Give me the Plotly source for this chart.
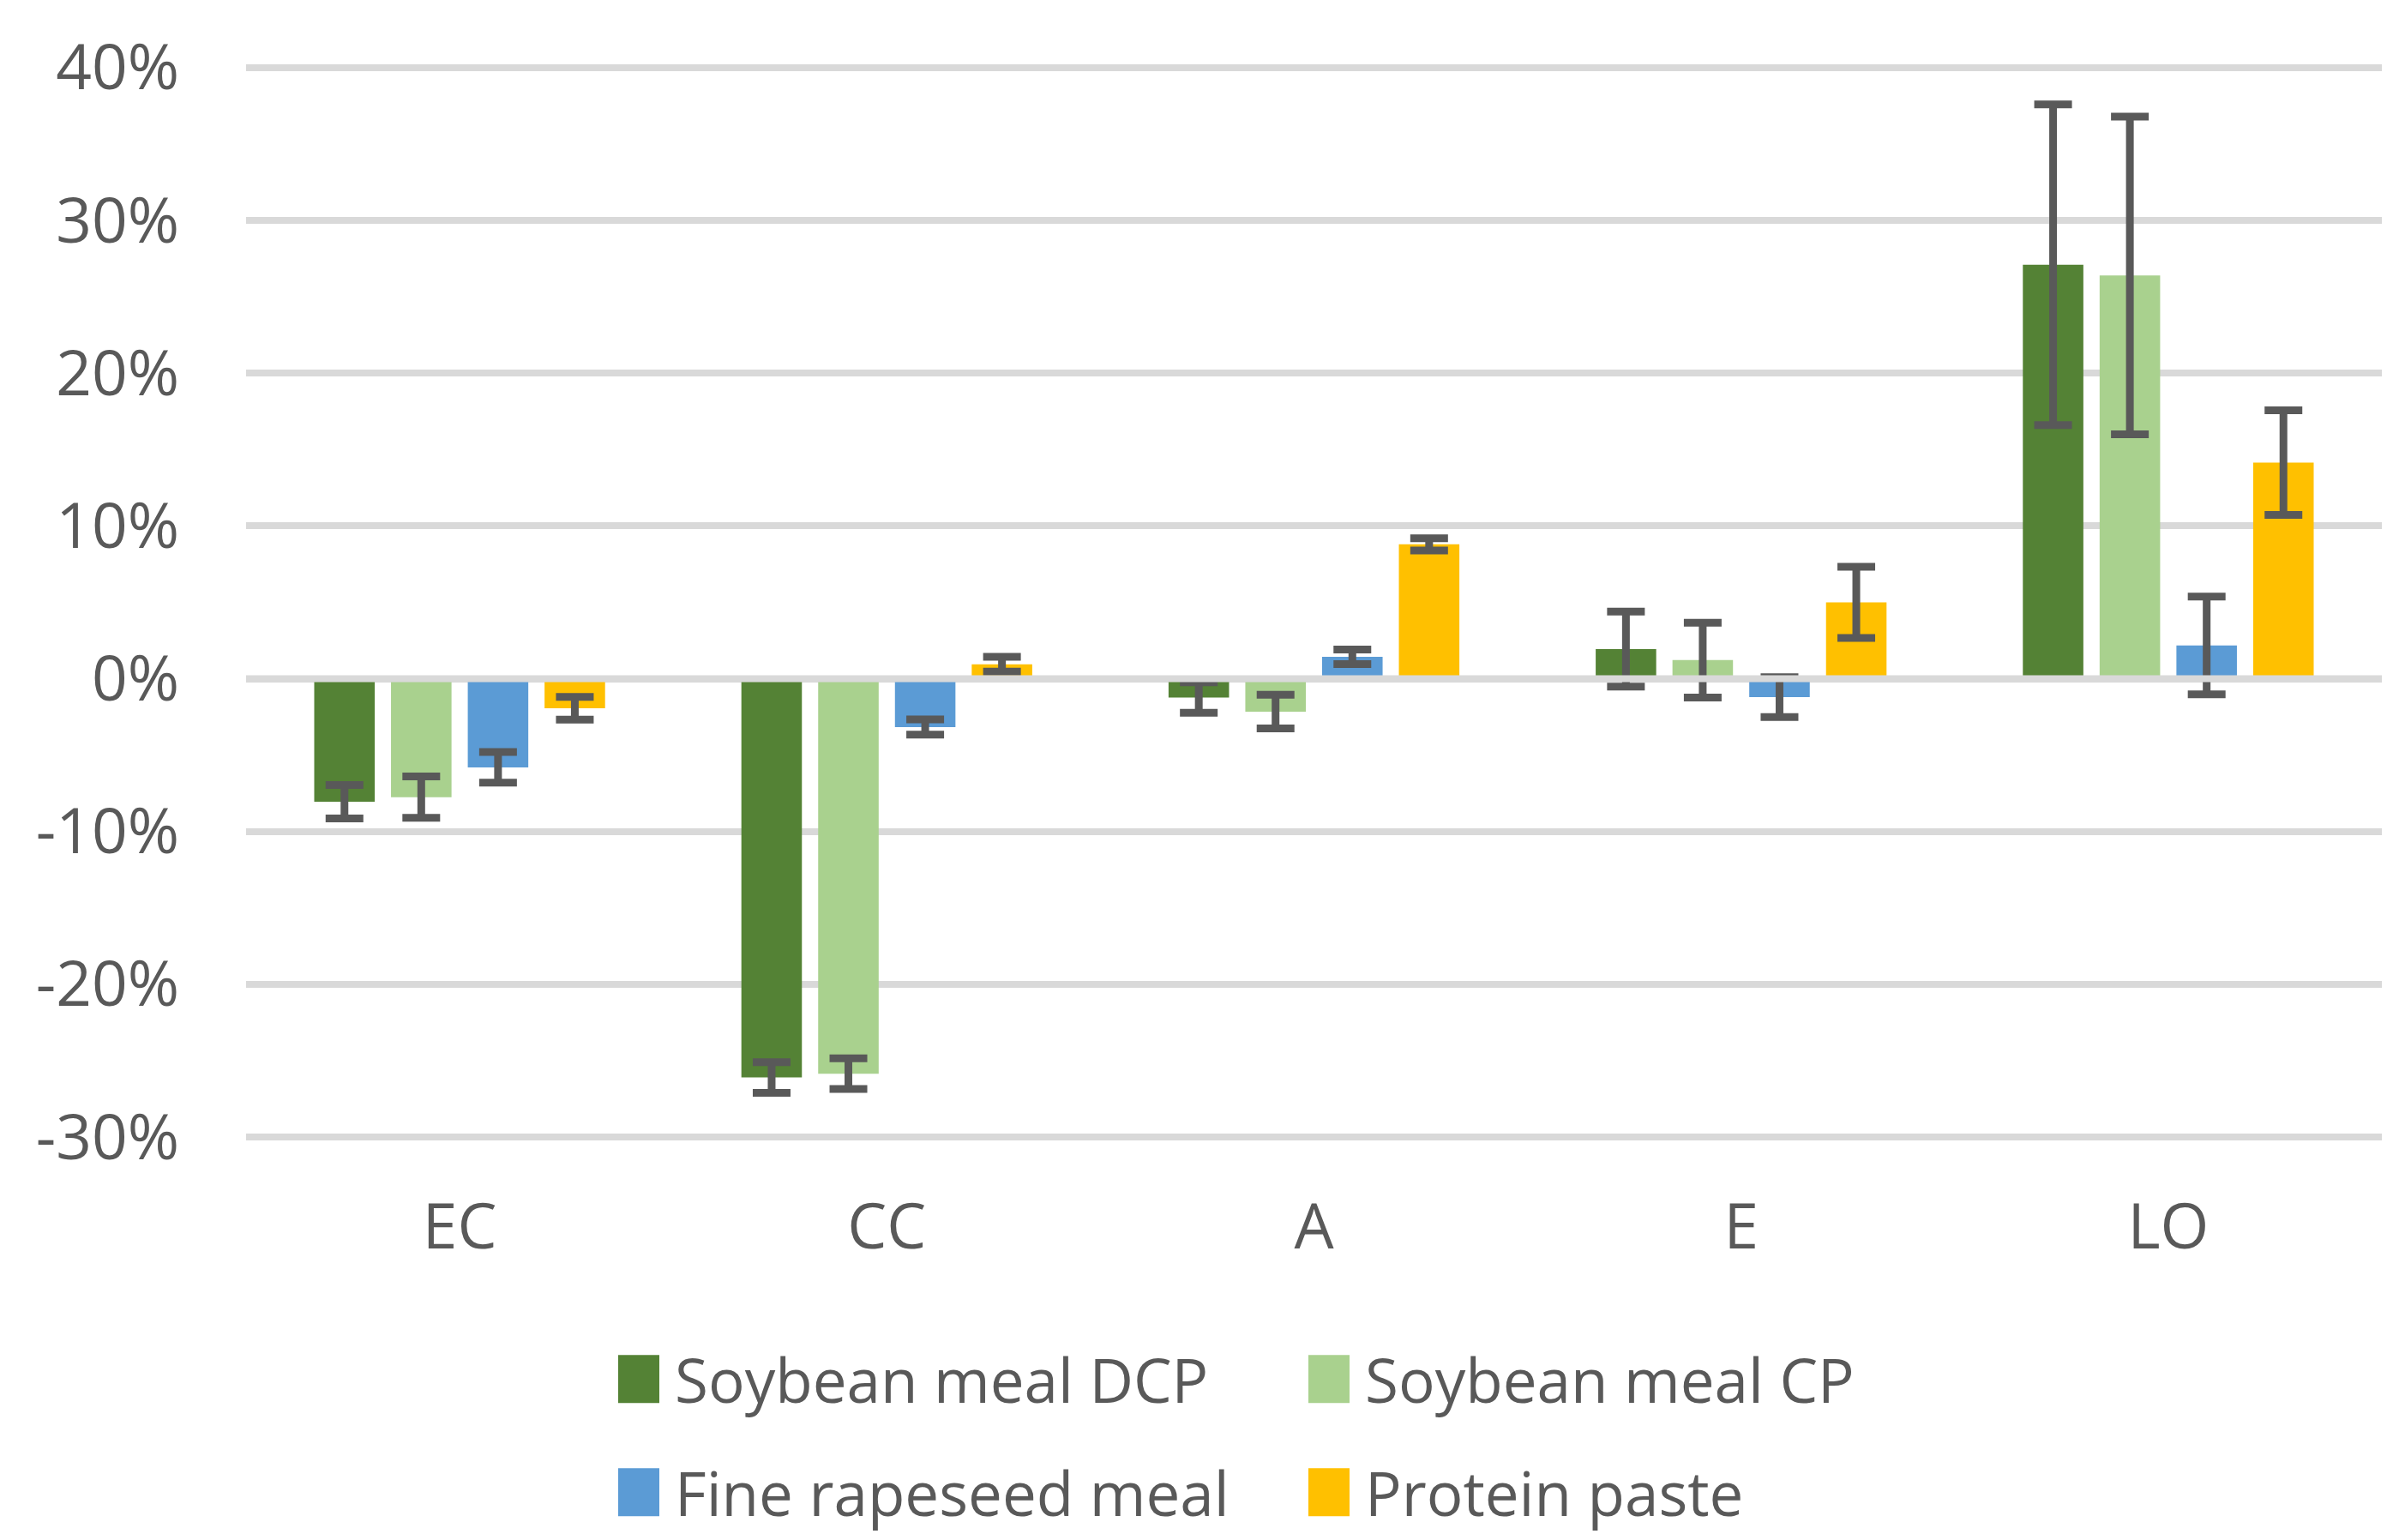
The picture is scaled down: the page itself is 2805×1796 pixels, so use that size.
import plotly.graph_objects as go

# ---------------- data ----------------
categories = ["EC", "CC", "A", "E", "LO"]
series_names = ["Soybean meal DCP", "Soybean meal CP", "Fine rapeseed meal", "Protein paste"]

soy_dcp = [-0.0805, -0.261, -0.0123, 0.0194, 0.271]
soy_dcp_err = [0.011, 0.010, 0.010, 0.0245, 0.105]

soy_cp = [-0.0775, -0.2585, -0.0215, 0.0122, 0.264]
soy_cp_err = [0.0135, 0.010, 0.011, 0.0245, 0.104]

rapeseed = [-0.058, -0.0316, 0.0144, -0.012, 0.0218]
rapeseed_err = [0.010, 0.005, 0.0048, 0.013, 0.032]

protein_paste = [-0.0193, 0.0095, 0.088, 0.050, 0.1415]
protein_paste_err = [0.0074, 0.0048, 0.004, 0.0233, 0.0342]

y_tickvals = [-0.3, -0.2, -0.1, 0.0, 0.1, 0.2, 0.3, 0.4]
y_ticktext = ["-30%", "-20%", "-10%", "0%", "10%", "20%", "30%", "40%"]

# ---------------- style ----------------
colors = ["#548235", "#A9D18E", "#5B9BD5", "#FFC000"]
TEXT = "#595959"
GRID = "#D9D9D9"
W, H = 2805, 1796
# pixel positions of the -30% and 40% gridlines and the plot's left/right ends
PL, PR, Y40, YM30 = 287, 2778, 79, 1326
Y_MIN, Y_MAX = -0.30, 0.40
PAD_V = 0.005  # small range padding so the edge gridlines are drawn
px_per_unit = (YM30 - Y40) / (Y_MAX - Y_MIN)
PT = Y40 - PAD_V * px_per_unit
PB = YM30 + PAD_V * px_per_unit
AXIS_FONT = "Open Sans, Liberation Sans, sans-serif"
LEG_FONT = "Open Sans, Liberation Sans, sans-serif"

values = [soy_dcp, soy_cp, rapeseed, protein_paste]
errors = [soy_dcp_err, soy_cp_err, rapeseed_err, protein_paste_err]

fig = go.Figure()
for name, vals, errs, col in zip(series_names, values, errors, colors):
    fig.add_trace(go.Bar(
        x=categories, y=vals, name=name,
        marker=dict(color=col, line=dict(width=0)),
        error_y=dict(type="data", array=errs, visible=True,
                     color="#595959", thickness=9, width=22),
        showlegend=False,
    ))

# zero axis line drawn in front of bars (as in the reference)
shapes = [dict(type="line", xref="paper", yref="y", x0=0, x1=1, y0=0, y1=0,
               line=dict(color=GRID, width=8), layer="above")]
annotations = []

def px_to_paper(px, py):
    return (px - PL) / (PR - PL), (PB - py) / (PB - PT)

# manual legend (2 rows x 2 columns)
col_x = [721, 1526]
row_y = [1608, 1740]
sq_w, sq_h = 48, 56
for i, (name, col) in enumerate(zip(series_names, colors)):
    cx = col_x[i % 2]
    cy = row_y[i // 2]
    x0, y0 = px_to_paper(cx, cy + sq_h / 2)
    x1, y1 = px_to_paper(cx + sq_w, cy - sq_h / 2)
    shapes.append(dict(type="rect", xref="paper", yref="paper",
                       x0=x0, x1=x1, y0=y0, y1=y1,
                       fillcolor=col, line=dict(width=0)))
    tx, ty = px_to_paper(cx + sq_w + 16, cy)
    annotations.append(dict(text=name, xref="paper", yref="paper", x=tx, y=ty,
                            xanchor="left", yanchor="middle", showarrow=False,
                            font=dict(family=LEG_FONT, size=71, color=TEXT)))

fig.update_layout(
    width=W, height=H,
    margin=dict(l=PL, r=W - PR, t=PT, b=H - PB, pad=0),
    paper_bgcolor="white", plot_bgcolor="white",
    barmode="group", bargap=0.281, bargroupgap=0.212,
    shapes=shapes, annotations=annotations,
    showlegend=False,
)
fig.update_yaxes(
    range=[Y_MIN - PAD_V, Y_MAX + PAD_V], tickvals=y_tickvals, ticktext=y_ticktext,
    showgrid=True, gridcolor=GRID, gridwidth=8,
    zeroline=False, showline=False, ticks="",
    ticklabelstandoff=77,
    tickfont=dict(family=AXIS_FONT, size=73, color=TEXT),
)
fig.update_xaxes(
    showgrid=False, zeroline=False, showline=False, ticks="",
    ticklabelstandoff=47,
    tickfont=dict(family=AXIS_FONT, size=73, color=TEXT),
)

fig.write_html("out.html", config={"displayModeBar": False},
               post_script="document.body.style.margin='0';")
